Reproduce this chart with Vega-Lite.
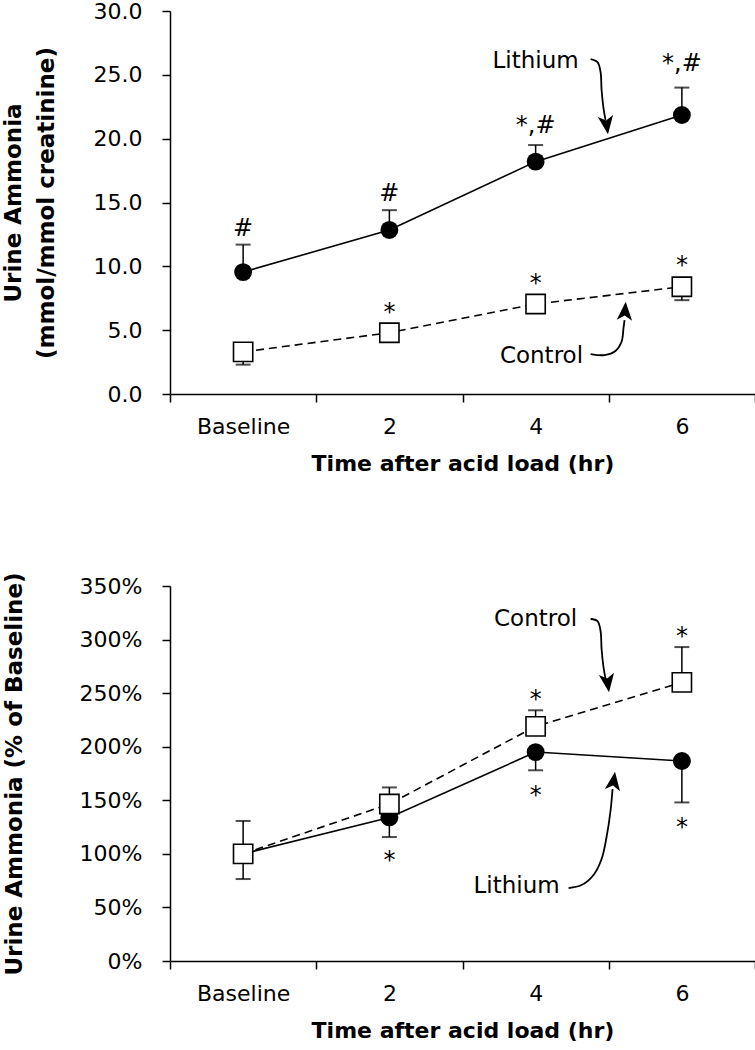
{
  "$schema": "https://vega.github.io/schema/vega-lite/v6.json",
  "padding": {"left": 2, "top": 0, "right": 0, "bottom": 0},
  "spacing": 97,
  "config": {
    "view": {"stroke": null},
    "font": "DejaVu Sans",
    "axis": {
      "grid": false,
      "domainColor": "black",
      "domainWidth": 1.5,
      "tickColor": "black",
      "tickWidth": 1.5,
      "tickSize": 8,
      "labelColor": "black",
      "labelFont": "DejaVu Sans",
      "labelFontSize": 22,
      "titleFont": "DejaVu Sans",
      "titleFontSize": 23,
      "titleFontWeight": "bold",
      "titleColor": "black"
    }
  },
  "datasets": {
    "top": [
      {"group": "Lithium", "t": 0.5, "v": 9.55, "err": 11.7},
      {"group": "Lithium", "t": 1.5, "v": 12.85, "err": 14.4},
      {"group": "Lithium", "t": 2.5, "v": 18.2, "err": 19.5},
      {"group": "Lithium", "t": 3.5, "v": 21.85, "err": 24.0},
      {"group": "Control", "t": 0.5, "v": 3.3, "err": 2.3},
      {"group": "Control", "t": 1.5, "v": 4.8, "err": 4.3},
      {"group": "Control", "t": 2.5, "v": 7.05, "err": 6.6},
      {"group": "Control", "t": 3.5, "v": 8.4, "err": 7.35}
    ],
    "topNotes": [
      {"t": 0.5, "v": 13.04, "label": "#", "kind": "sig"},
      {"t": 1.5, "v": 15.78, "label": "#", "kind": "sig"},
      {"t": 2.5, "v": 21.06, "label": "*,#", "kind": "sig"},
      {"t": 3.5, "v": 25.96, "label": "*,#", "kind": "sig"},
      {"t": 1.5, "v": 6.9, "label": "*", "kind": "star"},
      {"t": 2.5, "v": 9.16, "label": "*", "kind": "star"},
      {"t": 3.5, "v": 10.57, "label": "*", "kind": "star"},
      {"t": 2.5, "v": 26.15, "label": "Lithium", "kind": "name"},
      {"t": 2.54, "v": 3.05, "label": "Control", "kind": "name"}
    ],
    "topArrows": [
      {"arrow": "L", "seq": 1, "t": 2.876, "v": 26.23},
      {"arrow": "L", "seq": 2, "t": 2.923, "v": 26.0},
      {"arrow": "L", "seq": 3, "t": 2.944, "v": 25.22},
      {"arrow": "L", "seq": 4, "t": 2.951, "v": 23.81},
      {"arrow": "L", "seq": 5, "t": 2.964, "v": 22.4},
      {"arrow": "L", "seq": 6, "t": 2.978, "v": 21.46},
      {"arrow": "C", "seq": 1, "t": 2.876, "v": 3.13},
      {"arrow": "C", "seq": 2, "t": 2.971, "v": 3.05},
      {"arrow": "C", "seq": 3, "t": 3.046, "v": 3.37},
      {"arrow": "C", "seq": 4, "t": 3.087, "v": 4.07},
      {"arrow": "C", "seq": 5, "t": 3.101, "v": 5.17},
      {"arrow": "C", "seq": 6, "t": 3.108, "v": 5.79}
    ],
    "topHeads": [
      {"dir": "down", "t": 2.985, "v": 21.14},
      {"dir": "up", "t": 3.111, "v": 6.42}
    ],
    "bottom": [
      {"group": "Lithium", "t": 0.5, "v": 100, "err": 76.5},
      {"group": "Lithium", "t": 1.5, "v": 134, "err": 115.7},
      {"group": "Lithium", "t": 2.5, "v": 195, "err": 178},
      {"group": "Lithium", "t": 3.5, "v": 186.7, "err": 148},
      {"group": "Control", "t": 0.5, "v": 100, "err": 130.7},
      {"group": "Control", "t": 1.5, "v": 146.5, "err": 162},
      {"group": "Control", "t": 2.5, "v": 219, "err": 234},
      {"group": "Control", "t": 3.5, "v": 260, "err": 293}
    ],
    "bottomNotes": [
      {"t": 2.5, "v": 250, "label": "*", "kind": "star"},
      {"t": 2.5, "v": 160.5, "label": "*", "kind": "star"},
      {"t": 1.5, "v": 100, "label": "*", "kind": "star"},
      {"t": 3.5, "v": 309, "label": "*", "kind": "star"},
      {"t": 3.5, "v": 130.7, "label": "*", "kind": "star"},
      {"t": 2.5, "v": 320, "label": "Control", "kind": "name"},
      {"t": 2.37, "v": 70.9, "label": "Lithium", "kind": "name"}
    ],
    "bottomArrows": [
      {"arrow": "C", "seq": 1, "t": 2.876, "v": 319.2},
      {"arrow": "C", "seq": 2, "t": 2.923, "v": 317.3},
      {"arrow": "C", "seq": 3, "t": 2.944, "v": 308.0},
      {"arrow": "C", "seq": 4, "t": 2.951, "v": 291.2},
      {"arrow": "C", "seq": 5, "t": 2.964, "v": 274.4},
      {"arrow": "C", "seq": 6, "t": 2.978, "v": 263.2},
      {"arrow": "L", "seq": 1, "t": 2.725, "v": 68.1},
      {"arrow": "L", "seq": 2, "t": 2.814, "v": 70.9},
      {"arrow": "L", "seq": 3, "t": 2.896, "v": 80.3},
      {"arrow": "L", "seq": 4, "t": 2.951, "v": 95.2},
      {"arrow": "L", "seq": 5, "t": 2.985, "v": 115.7},
      {"arrow": "L", "seq": 6, "t": 3.012, "v": 140.0},
      {"arrow": "L", "seq": 7, "t": 3.026, "v": 160.5}
    ],
    "bottomHeads": [
      {"dir": "down", "t": 2.992, "v": 260.4},
      {"dir": "up", "t": 3.033, "v": 167.1}
    ]
  },
  "vconcat": [
    {
      "width": 585,
      "height": 383,
      "encoding": {
        "x": {
          "field": "t", "type": "quantitative",
          "scale": {"domain": [0, 4], "nice": false, "zero": false},
          "axis": {
            "title": "Time after acid load (hr)",
            "titleFontSize": 22,
            "values": [0, 0.5, 1, 1.5, 2, 2.5, 3, 3.5, 4],
            "labelExpr": "datum.value == 0.5 ? 'Baseline' : datum.value == 1.5 ? '2' : datum.value == 2.5 ? '4' : datum.value == 3.5 ? '6' : ''",
            "tickOpacity": {"condition": {"test": "datum.value % 1 == 0", "value": 1}, "value": 0},
            "labelFlush": false,
            "labelOverlap": false,
            "labelPadding": 14,
            "titlePadding": 16
          }
        },
        "y": {
          "field": "v", "type": "quantitative",
          "scale": {"domain": [0, 30], "nice": false},
          "axis": {
            "title": ["Urine Ammonia", "(mmol/mmol creatinine)"],
            "titleLineHeight": 33,
            "values": [0, 5, 10, 15, 20, 25, 30],
            "format": ".1f",
            "labelPadding": 20,
            "titlePadding": 35
          }
        }
      },
      "layer": [
        {
          "data": {"name": "top"},
          "mark": {"type": "rule", "color": "black", "strokeWidth": 1.5},
          "encoding": {"y2": {"field": "err"}}
        },
        {
          "data": {"name": "top"},
          "mark": {"type": "tick", "orient": "horizontal", "color": "black", "size": 15, "thickness": 2},
          "encoding": {"y": {"field": "err", "type": "quantitative"}}
        },
        {
          "data": {"name": "top"},
          "transform": [{"filter": "datum.group == 'Lithium'"}],
          "mark": {"type": "line", "color": "black", "strokeWidth": 1.6}
        },
        {
          "data": {"name": "top"},
          "transform": [{"filter": "datum.group == 'Control'"}],
          "mark": {"type": "line", "color": "black", "strokeWidth": 1.6, "strokeDash": [8, 5]}
        },
        {
          "data": {"name": "top"},
          "transform": [{"filter": "datum.group == 'Lithium'"}],
          "mark": {"type": "point", "shape": "circle", "filled": true, "color": "black", "opacity": 1, "size": 320}
        },
        {
          "data": {"name": "top"},
          "transform": [{"filter": "datum.group == 'Control'"}],
          "mark": {"type": "point", "shape": "square", "filled": true, "fill": "white", "stroke": "black", "strokeWidth": 1.6, "opacity": 1, "size": 370}
        },
        {
          "data": {"name": "topNotes"},
          "transform": [{"filter": "datum.kind == 'star'"}],
          "mark": {"type": "text", "fontSize": 24, "color": "black", "baseline": "middle", "align": "center", "dy": 7},
          "encoding": {"text": {"field": "label"}}
        },
        {
          "data": {"name": "topNotes"},
          "transform": [{"filter": "datum.kind == 'sig'"}],
          "mark": {"type": "text", "fontSize": 24, "color": "black", "baseline": "middle", "align": "center", "dy": 1},
          "encoding": {"text": {"field": "label"}}
        },
        {
          "data": {"name": "topNotes"},
          "transform": [{"filter": "datum.kind == 'name'"}],
          "mark": {"type": "text", "fontSize": 23, "color": "black", "baseline": "middle", "align": "center", "dy": 1},
          "encoding": {"text": {"field": "label"}}
        },
        {
          "data": {"name": "topArrows"},
          "mark": {"type": "line", "color": "black", "strokeWidth": 1.8, "interpolate": "catmull-rom"},
          "encoding": {"detail": {"field": "arrow"}, "order": {"field": "seq"}}
        },
        {
          "data": {"name": "topHeads"},
          "transform": [{"filter": "datum.dir == 'down'"}],
          "mark": {"type": "point", "shape": "M0,-1L0.75,0.8L0,0.35L-0.75,0.8Z", "filled": true, "color": "black", "opacity": 1, "size": 420, "angle": 172}
        },
        {
          "data": {"name": "topHeads"},
          "transform": [{"filter": "datum.dir == 'up'"}],
          "mark": {"type": "point", "shape": "M0,-1L0.75,0.8L0,0.35L-0.75,0.8Z", "filled": true, "color": "black", "opacity": 1, "size": 420, "angle": 4}
        }
      ]
    },
    {
      "width": 585,
      "height": 375,
      "encoding": {
        "x": {
          "field": "t", "type": "quantitative",
          "scale": {"domain": [0, 4], "nice": false, "zero": false},
          "axis": {
            "title": "Time after acid load (hr)",
            "titleFontSize": 22,
            "values": [0, 0.5, 1, 1.5, 2, 2.5, 3, 3.5, 4],
            "labelExpr": "datum.value == 0.5 ? 'Baseline' : datum.value == 1.5 ? '2' : datum.value == 2.5 ? '4' : datum.value == 3.5 ? '6' : ''",
            "tickOpacity": {"condition": {"test": "datum.value % 1 == 0", "value": 1}, "value": 0},
            "labelFlush": false,
            "labelOverlap": false,
            "labelPadding": 14,
            "titlePadding": 16
          }
        },
        "y": {
          "field": "v", "type": "quantitative",
          "scale": {"domain": [0, 350], "nice": false},
          "axis": {
            "title": "Urine Ammonia (% of Baseline)",
            "values": [0, 50, 100, 150, 200, 250, 300, 350],
            "labelExpr": "datum.value + '%'",
            "labelPadding": 20,
            "titlePadding": 53
          }
        }
      },
      "layer": [
        {
          "data": {"name": "bottom"},
          "mark": {"type": "rule", "color": "black", "strokeWidth": 1.5},
          "encoding": {"y2": {"field": "err"}}
        },
        {
          "data": {"name": "bottom"},
          "mark": {"type": "tick", "orient": "horizontal", "color": "black", "size": 15, "thickness": 2},
          "encoding": {"y": {"field": "err", "type": "quantitative"}}
        },
        {
          "data": {"name": "bottom"},
          "transform": [{"filter": "datum.group == 'Lithium'"}],
          "mark": {"type": "line", "color": "black", "strokeWidth": 1.6}
        },
        {
          "data": {"name": "bottom"},
          "transform": [{"filter": "datum.group == 'Control'"}],
          "mark": {"type": "line", "color": "black", "strokeWidth": 1.6, "strokeDash": [8, 5]}
        },
        {
          "data": {"name": "bottom"},
          "transform": [{"filter": "datum.group == 'Lithium'"}],
          "mark": {"type": "point", "shape": "circle", "filled": true, "color": "black", "opacity": 1, "size": 320}
        },
        {
          "data": {"name": "bottom"},
          "transform": [{"filter": "datum.group == 'Control'"}],
          "mark": {"type": "point", "shape": "square", "filled": true, "fill": "white", "stroke": "black", "strokeWidth": 1.6, "opacity": 1, "size": 370}
        },
        {
          "data": {"name": "bottomNotes"},
          "transform": [{"filter": "datum.kind == 'star'"}],
          "mark": {"type": "text", "fontSize": 24, "color": "black", "baseline": "middle", "align": "center", "dy": 7},
          "encoding": {"text": {"field": "label"}}
        },
        {
          "data": {"name": "bottomNotes"},
          "transform": [{"filter": "datum.kind == 'name'"}],
          "mark": {"type": "text", "fontSize": 23, "color": "black", "baseline": "middle", "align": "center", "dy": 1},
          "encoding": {"text": {"field": "label"}}
        },
        {
          "data": {"name": "bottomArrows"},
          "mark": {"type": "line", "color": "black", "strokeWidth": 1.8, "interpolate": "catmull-rom"},
          "encoding": {"detail": {"field": "arrow"}, "order": {"field": "seq"}}
        },
        {
          "data": {"name": "bottomHeads"},
          "transform": [{"filter": "datum.dir == 'down'"}],
          "mark": {"type": "point", "shape": "M0,-1L0.75,0.8L0,0.35L-0.75,0.8Z", "filled": true, "color": "black", "opacity": 1, "size": 420, "angle": 172}
        },
        {
          "data": {"name": "bottomHeads"},
          "transform": [{"filter": "datum.dir == 'up'"}],
          "mark": {"type": "point", "shape": "M0,-1L0.75,0.8L0,0.35L-0.75,0.8Z", "filled": true, "color": "black", "opacity": 1, "size": 420, "angle": 8}
        }
      ]
    }
  ]
}
